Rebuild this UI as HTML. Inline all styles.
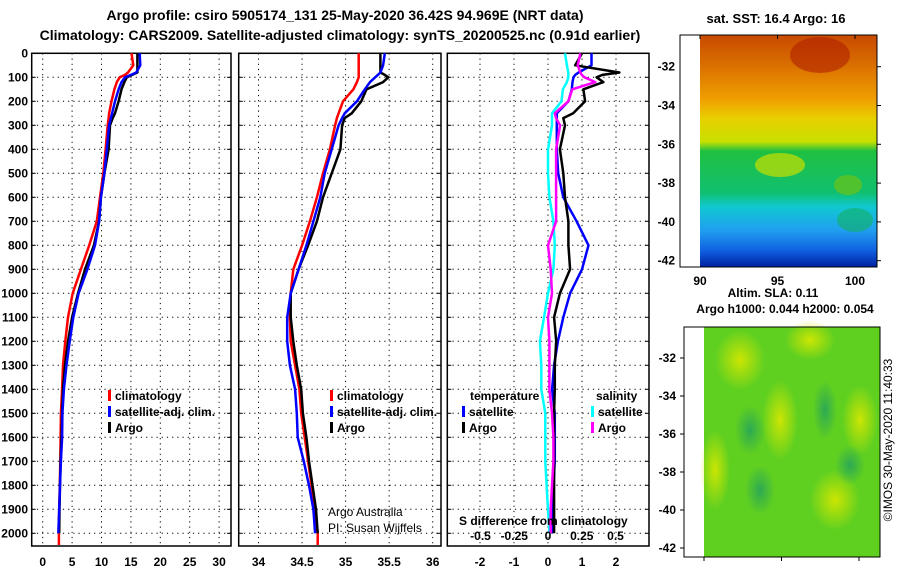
<!DOCTYPE html>
<html><head><meta charset="utf-8">
<style>
body{margin:0;background:#fff;}
svg{display:block;font-family:"Liberation Sans",sans-serif;}
.t{font-weight:bold;font-size:14px;}
.tk{font-weight:bold;font-size:12px;}
.lg{font-weight:bold;font-size:12px;}
</style></head><body>
<svg id="c" width="900" height="580" viewBox="0 0 900 580" xmlns="http://www.w3.org/2000/svg">
<defs>
<linearGradient id="sstg" x1="0" y1="0" x2="0" y2="1">
<stop offset="0" stop-color="#c84a00"/><stop offset="0.12" stop-color="#d86c00"/>
<stop offset="0.28" stop-color="#f0a000"/><stop offset="0.36" stop-color="#e8d000"/>
<stop offset="0.46" stop-color="#c8e000"/><stop offset="0.5" stop-color="#20c040"/>
<stop offset="0.68" stop-color="#10c070"/><stop offset="0.74" stop-color="#10c8d0"/>
<stop offset="0.84" stop-color="#20a0f0"/><stop offset="0.93" stop-color="#1060e0"/>
<stop offset="1" stop-color="#0020a0"/></linearGradient>
<radialGradient id="yb"><stop offset="0" stop-color="#d8e800" stop-opacity="0.9"/><stop offset="1" stop-color="#d8e800" stop-opacity="0"/></radialGradient>
<radialGradient id="gb"><stop offset="0" stop-color="#20a060" stop-opacity="0.8"/><stop offset="1" stop-color="#20a060" stop-opacity="0"/></radialGradient>
</defs>
<text class="t" x="345" y="20" text-anchor="middle">Argo profile: csiro 5905174_131 25-May-2020 36.42S 94.969E (NRT data)</text>
<text class="t" x="340" y="40" text-anchor="middle">Climatology: CARS2009. Satellite-adjusted climatology: synTS_20200525.nc (0.91d earlier)</text>
<g id="plots"></g>
<text class="t" x="776" y="23" text-anchor="middle" style="font-size:13px">sat. SST: 16.4 Argo: 16</text>
<g>
<rect x="700" y="35" width="177" height="232" fill="url(#sstg)"/>
<ellipse cx="820" cy="55" rx="30" ry="18" fill="#b02000" opacity="0.6"/>
<ellipse cx="780" cy="165" rx="25" ry="12" fill="#c8e000" opacity="0.7"/>
<ellipse cx="848" cy="185" rx="14" ry="10" fill="#60c020" opacity="0.8"/>
<ellipse cx="855" cy="220" rx="18" ry="12" fill="#10b060" opacity="0.6"/>
<rect x="680" y="35" width="197" height="232" fill="none" stroke="#000"/>
</g>
<g id="map1axis"></g>
<text class="t" x="773" y="297" text-anchor="middle" style="font-size:12px">Altim. SLA: 0.11</text>
<text class="t" x="785" y="313" text-anchor="middle" style="font-size:12px">Argo h1000: 0.044 h2000: 0.054</text>
<g>
<rect x="704" y="327" width="176" height="230" fill="#60d020"/>
<ellipse cx="740" cy="360" rx="25" ry="30" fill="url(#yb)"/>
<ellipse cx="810" cy="340" rx="25" ry="20" fill="url(#yb)"/>
<ellipse cx="780" cy="420" rx="18" ry="40" fill="url(#yb)"/>
<ellipse cx="860" cy="420" rx="18" ry="35" fill="url(#yb)"/>
<ellipse cx="715" cy="470" rx="15" ry="40" fill="url(#yb)"/>
<ellipse cx="835" cy="500" rx="25" ry="30" fill="url(#yb)"/>
<ellipse cx="750" cy="430" rx="15" ry="25" fill="url(#gb)"/>
<ellipse cx="825" cy="410" rx="12" ry="30" fill="url(#gb)"/>
<ellipse cx="760" cy="490" rx="15" ry="25" fill="url(#gb)"/>
<ellipse cx="850" cy="465" rx="15" ry="20" fill="url(#gb)"/>
<rect x="684" y="327" width="196" height="230" fill="none" stroke="#000"/>
</g>
<g id="map2axis"></g>
<text x="892" y="440" transform="rotate(-90 892 440)" text-anchor="middle" style="font-size:12px">©IMOS 30-May-2020 11:40:33</text>
</svg>
<script>
const depths=[0,50,80,90,100,120,150,200,250,270,300,400,500,600,700,800,900,1000,1100,1200,1300,1400,1500,1600,1700,1800,1900,2000];
const tClim=[15.1,15.4,14.5,14,13.1,12.6,12.2,11.7,11.3,11.2,11.05,10.7,10.3,9.75,9.2,7.9,6.5,5.1,4.3,3.85,3.45,3.3,3.1,3.05,3.0,2.9,2.8,2.75];
const tSat=[16.5,16.6,15.9,15,14,13.4,12.9,12.3,11.8,11.6,11.3,10.9,10.5,9.9,9.6,8.9,7.6,6.1,5.2,4.6,4.05,3.6,3.35,3.3,3.1,2.95,2.8,2.65];
const tArgo=[16.1,16.1,16.1,15.2,14.3,13.9,13.4,12.9,12.3,11.9,11.45,11.2,10.5,9.9,9.6,8.7,7.2,6.0,5.0,4.3,3.8,3.45,3.3,3.2,3.05,2.95,2.85,2.8];
const sClim=[35.15,35.15,35.15,35.15,35.15,35.13,35.09,34.97,34.92,34.9,34.88,34.82,34.74,34.67,34.59,34.5,34.4,34.37,34.36,34.37,34.42,34.47,34.49,34.53,34.57,34.61,34.65,34.68];
const sSat=[35.45,35.43,35.4,35.37,35.34,35.28,35.22,35.13,34.99,34.96,34.92,34.84,34.76,34.71,34.63,34.55,34.46,34.37,34.33,34.33,34.36,34.42,34.44,34.45,34.52,34.58,34.63,34.65];
const sArgo=[35.4,35.4,35.4,35.45,35.49,35.43,35.24,35.18,35.07,34.99,34.96,34.94,34.84,34.74,34.67,34.57,34.46,34.37,34.37,34.4,34.44,34.49,34.51,34.55,34.58,34.62,34.66,34.68];
const dTsat=[1.28,1.28,0.9,0.8,0.75,0.72,0.7,0.6,0.26,0.26,0.26,0.26,0.3,0.45,0.84,1.19,1.0,0.65,0.45,0.29,0.18,0.12,0.2,0.2,0.2,0.16,0.14,0.12];
const dTargo=[1.0,0.8,2.1,1.6,1.43,1.63,1.04,1.09,0.74,0.45,0.5,0.35,0.45,0.5,0.6,0.6,0.65,0.35,0.18,0.24,0.2,0.2,0.18,0.18,0.18,0.18,0.18,0.18];
const dSsat=[0.126,0.14,0.15,0.15,0.15,0.14,0.11,0.1,0.03,0.03,0.03,0.0,0.0,0.01,0.04,0.05,0.04,0.0,-0.03,-0.06,-0.05,-0.05,-0.02,-0.02,-0.02,-0.01,0.0,0.01];
const dSargo=[0.24,0.22,0.24,0.25,0.27,0.35,0.18,0.15,0.05,0.06,0.09,0.06,0.06,0.06,0.06,0.0,0.02,0.03,0.0,0.01,0.01,0.01,0.03,0.04,0.04,0.03,0.02,0.02];
const depthTicks=[0,100,200,300,400,500,600,700,800,900,1000,1100,1200,1300,1400,1500,1600,1700,1800,1900,2000];
const p1Ticks=[0,5,10,15,20,25,30];
const p2Ticks=[34,34.5,35,35.5,36];
const p2Labels=["34","34.5","35","35.5","36"];
const p3Ticks=[-2,-1,0,1,2];
const sDiffTicks=[-0.5,-0.25,0,0.25,0.5];
const sDiffLabels=["-0.5","-0.25","0","0.25","0.5"];
const lat1=[-32,-34,-36,-38,-40,-42];
const lon1=[90,95,100];

const NS='http://www.w3.org/2000/svg';
const root=document.getElementById('plots');
function mk(tag,attrs,parent){const e=document.createElementNS(NS,tag);for(const k in attrs)e.setAttribute(k,attrs[k]);(parent||root).appendChild(e);return e;}
const yTop=53.3,yBot=546,yS=d=>yTop+d*0.24;
const panels=[
 {name:'temperature',x0:31.7,x1:231,f:v=>42.7+v*5.88,ticks:p1Ticks,labels:p1Ticks.map(String)},
 {name:'salinity',x0:238.7,x1:441,f:v=>258.5+(v-34)*87.1,ticks:p2Ticks,labels:p2Labels},
 {name:'difference',x0:447.3,x1:649,f:v=>548+v*34,ticks:p3Ticks,labels:p3Ticks.map(String)}];
const sx3=v=>548+v*135;
panels.forEach((p,i)=>{
 const g=mk('g',{});
 
 
 p.ticks.forEach(t=>mk('line',{x1:p.f(t),x2:p.f(t),y1:yTop,y2:yBot,stroke:'#000','stroke-dasharray':'1.2,4','stroke-width':1},g));
 depthTicks.forEach(d=>{mk('line',{x1:p.x0,x2:p.x1,y1:yS(d),y2:yS(d),stroke:'#000','stroke-dasharray':'1.2,4','stroke-width':1},g);
   mk('line',{x1:p.x0,x2:p.x0+4,y1:yS(d),y2:yS(d),stroke:'#000'},g);mk('line',{x1:p.x1-4,x2:p.x1,y1:yS(d),y2:yS(d),stroke:'#000'},g);});
 mk('rect',{x:p.x0,y:yTop,width:p.x1-p.x0,height:yBot-yTop,fill:'none',stroke:'#000','stroke-width':1.5},g);
 p.ticks.forEach((t,j)=>{const tl=mk('text',{x:p.f(t),y:566,'text-anchor':'middle',class:'tk'},g);tl.textContent=p.labels[j];
   
   });
});
depthTicks.forEach(d=>{const t=mk('text',{x:28,y:yS(d)+4,'text-anchor':'end',class:'tk'});t.textContent=d;
 
 });
function line(xs,f,color,name,w,ext){
 let pts=depths.map((d,i)=>f(xs[i]).toFixed(1)+','+yS(d).toFixed(1)).join(' ');
 if(ext)pts+=' '+f(xs[xs.length-1]).toFixed(1)+','+(yBot-1);
 const l=mk('polyline',{points:pts,fill:'none',stroke:color,'stroke-width':w||2.5,'stroke-linejoin':'round'});
 
 
}
const P=panels;
line(tClim,P[0].f,'#ff0000','temp-climatology-line',2.5,true);
line(tArgo,P[0].f,'#000000','temp-argo-line');
line(tSat,P[0].f,'#0000ff','temp-satellite-line');
line(sClim,P[1].f,'#ff0000','sal-climatology-line',2.5,true);
line(sArgo,P[1].f,'#000000','sal-argo-line');
line(sSat,P[1].f,'#0000ff','sal-satellite-line');
line(dTsat,P[2].f,'#0000ff','tdiff-satellite-line');
line(dTargo,P[2].f,'#000000','tdiff-argo-line');
line(dSsat,sx3,'#00ffff','sdiff-satellite-line');
line(dSargo,sx3,'#ff00ff','sdiff-argo-line');
function leg(x,y,c,txt,name){const g=mk('g',{});
 
 
 if(c)mk('rect',{x:x,y:y-10,width:3,height:11,fill:c},g);
 const t=mk('text',{x:x+(c?7:0),y:y,class:'lg'},g);t.textContent=txt;}
leg(108,400,'#ff0000','climatology','legend-climatology');
leg(108,416,'#0000ff','satellite-adj. clim.','legend-satellite-adj');
leg(108,432,'#000000','Argo','legend-argo');
leg(330,400,'#ff0000','climatology','legend-climatology-2');
leg(330,416,'#0000ff','satellite-adj. clim.','legend-satellite-adj-2');
leg(330,432,'#000000','Argo','legend-argo-2');
leg(470,400,null,'temperature','legend-temperature-heading');
leg(596,400,null,'salinity','legend-salinity-heading');
leg(462,416,'#0000ff','satellite','legend-temp-satellite');
leg(462,432,'#000000','Argo','legend-temp-argo');
leg(591,416,'#00ffff','satellite','legend-sal-satellite');
leg(591,432,'#ff00ff','Argo','legend-sal-argo');
let tx=mk('text',{x:328,y:516,style:'font-size:12px'});tx.textContent='Argo Australia';

tx=mk('text',{x:328,y:532,style:'font-size:12px'});tx.textContent='PI: Susan Wijffels';

tx=mk('text',{x:459,y:525,class:'lg'});tx.textContent='S difference from climatology';

sDiffTicks.forEach((v,i)=>{const s=mk('text',{x:sx3(v),y:540,'text-anchor':'middle',class:'tk'});s.textContent=sDiffLabels[i];
 
 });
const m1=document.getElementById('map1axis');
const latY1=v=>66.7+(v+32)*-19.4;
lat1.forEach(v=>{mk('line',{x1:877,x2:881,y1:latY1(v),y2:latY1(v),stroke:'#000'},m1);
 const s=mk('text',{x:675,y:latY1(v)+4,'text-anchor':'end',class:'tk'},m1);s.textContent=v;
 });
const lonX1=v=>700+(v-90)*15.5;
lon1.forEach(v=>{mk('line',{x1:lonX1(v),x2:lonX1(v),y1:35,y2:39,stroke:'#000'},m1);
 const s=mk('text',{x:lonX1(v),y:285,'text-anchor':'middle',class:'tk'},m1);s.textContent=v;
 });
const m2=document.getElementById('map2axis');
const latY2=v=>396+(v+34)*-19;
lat1.forEach(v=>{mk('line',{x1:680,x2:684,y1:latY2(v),y2:latY2(v),stroke:'#000'},m2);
 const s=mk('text',{x:676,y:latY2(v)+4,'text-anchor':'end',class:'tk'},m2);s.textContent=v;
 });
lon1.forEach(v=>mk('line',{x1:704+(v-90)*15.5,x2:704+(v-90)*15.5,y1:557,y2:561,stroke:'#000'},m2));
</script>
</body></html>
